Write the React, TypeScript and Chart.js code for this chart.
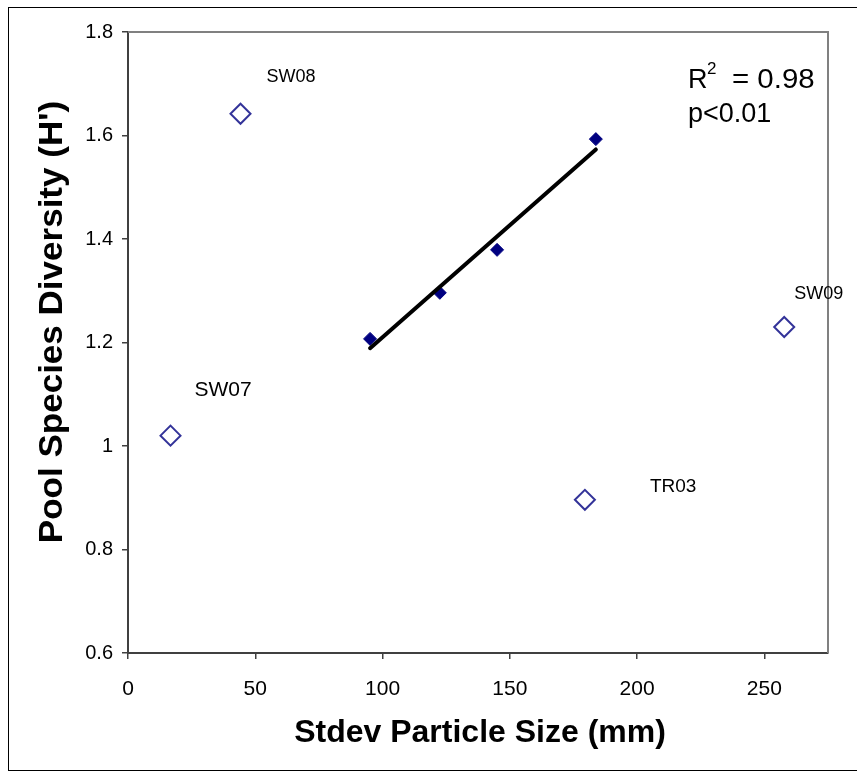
import React, { useEffect, useRef } from "react";
import { Chart, registerables } from "chart.js";

Chart.register(...registerables);

// ---- data ----
const fitX = [95.1, 122.5, 145.0, 183.8];
const fitY = [1.207, 1.296, 1.379, 1.593];

const outlierNames = ["SW07", "SW08", "TR03", "SW09"];
const outlierX = [16.7, 44.2, 179.5, 257.8];
const outlierY = [1.02, 1.642, 0.896, 1.23];

const trendX = [95.1, 183.8];
const trendY = [1.189, 1.573];

const xTicks = [0, 50, 100, 150, 200, 250];
const yTicks = [0.6, 0.8, 1.0, 1.2, 1.4, 1.6, 1.8];

const xTitle = "Stdev Particle Size (mm)";
const yTitle = "Pool Species Diversity (H')";
const statR = "R";
const statSup = "2";
const statEq = "= 0.98";
const statP = "p<0.01";

// label offsets (px) from each outlier marker + font size
const labelOffsets: Record<string, [number, number, number]> = {
  SW07: [24, -45, 21],
  SW08: [26, -37, 18],
  TR03: [65, -13, 19],
  SW09: [10, -33, 18],
};

const FONT = "'Liberation Sans', Arial, sans-serif";

const overlayPlugin = {
  id: "overlay",
  afterDraw(chart: any) {
    const { ctx, chartArea, scales } = chart;
    ctx.save();
    // plot frame top/right
    ctx.strokeStyle = "#808080";
    ctx.lineWidth = 2;
    ctx.beginPath();
    ctx.moveTo(chartArea.left, chartArea.top);
    ctx.lineTo(chartArea.right, chartArea.top);
    ctx.lineTo(chartArea.right, chartArea.bottom);
    ctx.stroke();

    // outlier labels
    ctx.fillStyle = "#000";
    ctx.textBaseline = "middle";
    ctx.textAlign = "left";
    outlierNames.forEach((n, i) => {
      const [dx, dy, fs] = labelOffsets[n];
      const px = scales.x.getPixelForValue(outlierX[i]);
      const py = scales.y.getPixelForValue(outlierY[i]);
      ctx.font = `${fs}px ${FONT}`;
      ctx.fillText(n, px + dx, py + dy);
    });

    // stats text
    ctx.textBaseline = "alphabetic";
    ctx.textAlign = "left";
    ctx.font = `27px ${FONT}`;
    ctx.fillText(statR, 679, 80);
    ctx.fillText(statP, 679, 114);
    ctx.font = `17px ${FONT}`;
    ctx.fillText(statSup, 698, 66);
    ctx.font = `27px ${FONT}`;
    ctx.save();
    ctx.translate(723, 80);
    ctx.scale(1.09, 1);
    ctx.fillText(statEq, 0, 0);
    ctx.restore();

    // axis titles
    ctx.font = `bold 32px ${FONT}`;
    ctx.textAlign = "center";
    ctx.textBaseline = "middle";
    ctx.fillText(xTitle, 471, 725);
    ctx.font = `bold 34px ${FONT}`;
    ctx.translate(44, 314);
    ctx.rotate(-Math.PI / 2);
    ctx.scale(1.03, 1);
    ctx.fillText(yTitle, 0, 0);
    ctx.restore();
  },
};

export default function App() {
  const ref = useRef<HTMLCanvasElement | null>(null);
  useEffect(() => {
    document.body.style.overflow = "hidden";
    if (!ref.current) return;
    const chart = new Chart(ref.current, {
      type: "scatter",
      data: {
        datasets: [
          {
            type: "line",
            data: trendX.map((x, i) => ({ x, y: trendY[i] })),
            borderColor: "#000",
            borderWidth: 4,
            pointRadius: 0,
            borderCapStyle: "round",
            showLine: true,
            order: 0,
          } as any,
          {
            data: fitX.map((x, i) => ({ x, y: fitY[i] })),
            pointStyle: "rectRot",
            pointRadius: 6.5,
            backgroundColor: "#000080",
            borderColor: "#000080",
            borderWidth: 1,
            order: 1,
          },
          {
            data: outlierX.map((x, i) => ({ x, y: outlierY[i] })),
            pointStyle: "rectRot",
            pointRadius: 10,
            backgroundColor: "rgba(255,255,255,0)",
            borderColor: "#333399",
            borderWidth: 2,
            order: 2,
          },
        ],
      },
      options: {
        animation: false,
        responsive: false,
        layout: { padding: { left: 0, right: 29, top: 24, bottom: 0 } },
        plugins: { legend: { display: false }, tooltip: { enabled: false } },
        scales: {
          x: {
            type: "linear",
            min: 0,
            max: 275,
            ticks: {
              font: { family: FONT, size: 21 },
              color: "#000",
              padding: 18,
              callback: (v: any) => String(v),
            },
            grid: {
              drawOnChartArea: false,
              drawTicks: true,
              tickLength: 6,
              color: "#404040",
              lineWidth: 1.5,
            },
            border: { display: true, color: "#404040", width: 2 },
            afterBuildTicks: (s: any) => {
              s.ticks = xTicks.map((v) => ({ value: v }));
            },
            afterFit: (s: any) => {
              s.height = 117;
            },
          },
          y: {
            type: "linear",
            min: 0.6,
            max: 1.8,
            ticks: {
              font: { family: FONT, size: 20 },
              color: "#000",
              padding: 9,
              callback: (v: any) => String(Number(Number(v).toFixed(1))),
            },
            grid: {
              drawOnChartArea: false,
              drawTicks: true,
              tickLength: 6,
              color: "#404040",
              lineWidth: 1.5,
            },
            border: { display: true, color: "#404040", width: 2 },
            afterBuildTicks: (s: any) => {
              s.ticks = yTicks.map((v) => ({ value: v }));
            },
            afterFit: (s: any) => {
              s.width = 119;
            },
          },
        },
      },
      plugins: [overlayPlugin],
    } as any);
    return () => chart.destroy();
  }, []);

  return (
    <div
      style={{
        position: "fixed",
        left: 8,
        top: 7,
        width: 880,
        height: 762,
        borderLeft: "1px solid #000",
        borderTop: "1px solid #000",
        borderBottom: "1px solid #000",
        background: "#fff",
      }}
    >
      <canvas ref={ref} width={848} height={762} style={{ display: "block" }} />
    </div>
  );
}
